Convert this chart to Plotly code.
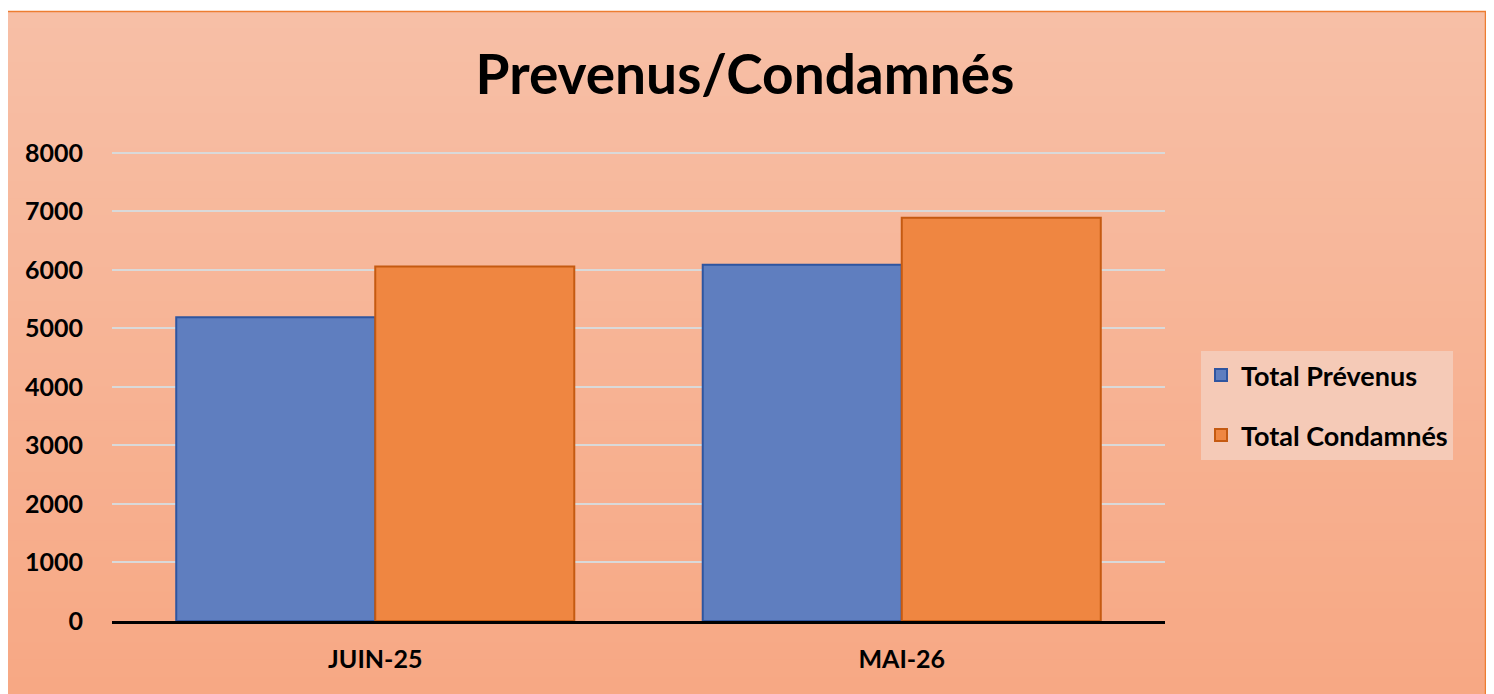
import plotly.graph_objects as go

categories = ["JUIN-25", "MAI-26"]
prevenus = [5190, 6090]
condamnes = [6060, 6890]
series_names = ["Total Prévenus", "Total Condamnés"]
y_ticks = [0, 1000, 2000, 3000, 4000, 5000, 6000, 7000, 8000]
y_max = 8050

OFF = 8  # page body margin
W, H = 1494 - OFF, 694 - OFF
L, R, B = 112 - OFF, 1165 - OFF, 621 - OFF
ph = 468 * y_max / 8000
T = B - ph
pw = R - L

def px(x):
    return (x - OFF - L) / pw

def py(y):
    return (B - (y - OFF)) / ph

fig = go.Figure()
fig.add_trace(go.Bar(
    x=categories, y=prevenus, name=series_names[0],
    marker=dict(color="#5F7EBF", line=dict(color="#2F55A0", width=2)),
    legendgroup="a",
))
fig.add_trace(go.Bar(
    x=categories, y=condamnes, name=series_names[1],
    marker=dict(color="#EF8641", line=dict(color="#C55A11", width=2)),
    legendgroup="b",
))

# gradient background strips
shapes = []
top_c = (247, 191, 166)
bot_c = (247, 168, 132)
y_start, y_end = 11, 694
n = 40
for i in range(n):
    t = i / (n - 1)
    c = tuple(round(top_c[k] + (bot_c[k] - top_c[k]) * t) for k in range(3))
    y0 = y_start + (y_end - y_start) * i / n
    y1 = y_start + (y_end - y_start) * (i + 1) / n + 1
    shapes.append(dict(
        type="rect", xref="paper", yref="paper", layer="below",
        x0=px(4), x1=px(1486), y0=py(y1), y1=py(y0),
        fillcolor="rgb(%d,%d,%d)" % c, line=dict(width=0),
    ))
shapes.append(dict(
    type="rect", xref="paper", yref="paper", layer="below",
    x0=px(4.5), x1=px(1485.5), y0=py(700), y1=py(11.5),
    fillcolor="rgba(0,0,0,0)", line=dict(color="#ED7D31", width=1.5),
))

fig.update_layout(
    width=W, height=H,
    margin=dict(l=L, r=W - R, t=T, b=H - B, autoexpand=False),
    paper_bgcolor="white",
    plot_bgcolor="rgba(0,0,0,0)",
    shapes=shapes,
    barmode="group",
    bargap=0.244,
    bargroupgap=0,
    font=dict(family="Lato", color="black"),
    title=dict(
        text="<b>Prevenus/Condamnés</b>",
        x=(745 - OFF) / W, xanchor="center", xref="container",
        y=1 - (75 - OFF) / H, yanchor="middle", yref="container",
        font=dict(size=55, family="Lato", color="black"),
    ),
    legend=dict(
        x=px(1201), y=py(351), xanchor="left", yanchor="top",
        bgcolor="#F5CAB7",
        font=dict(size=27, family="Lato", color="black", weight="bold"),
        traceorder="grouped",
        tracegroupgap=22,
        itemwidth=30,
    ),
    xaxis=dict(
        showgrid=False,
        showline=True, linecolor="black", linewidth=3,
        tickfont=dict(size=25, family="Lato", weight="bold", color="black"),
        ticklabelstandoff=14,
    ),
    yaxis=dict(
        range=[0, y_max],
        tickvals=y_ticks,
        showgrid=True, gridcolor="#D9D9D9", gridwidth=2,
        zeroline=False,
        tickfont=dict(size=25, family="Lato", weight="bold", color="black"),
        ticklabelstandoff=28,
    ),
)

fig.write_html("out.html")
